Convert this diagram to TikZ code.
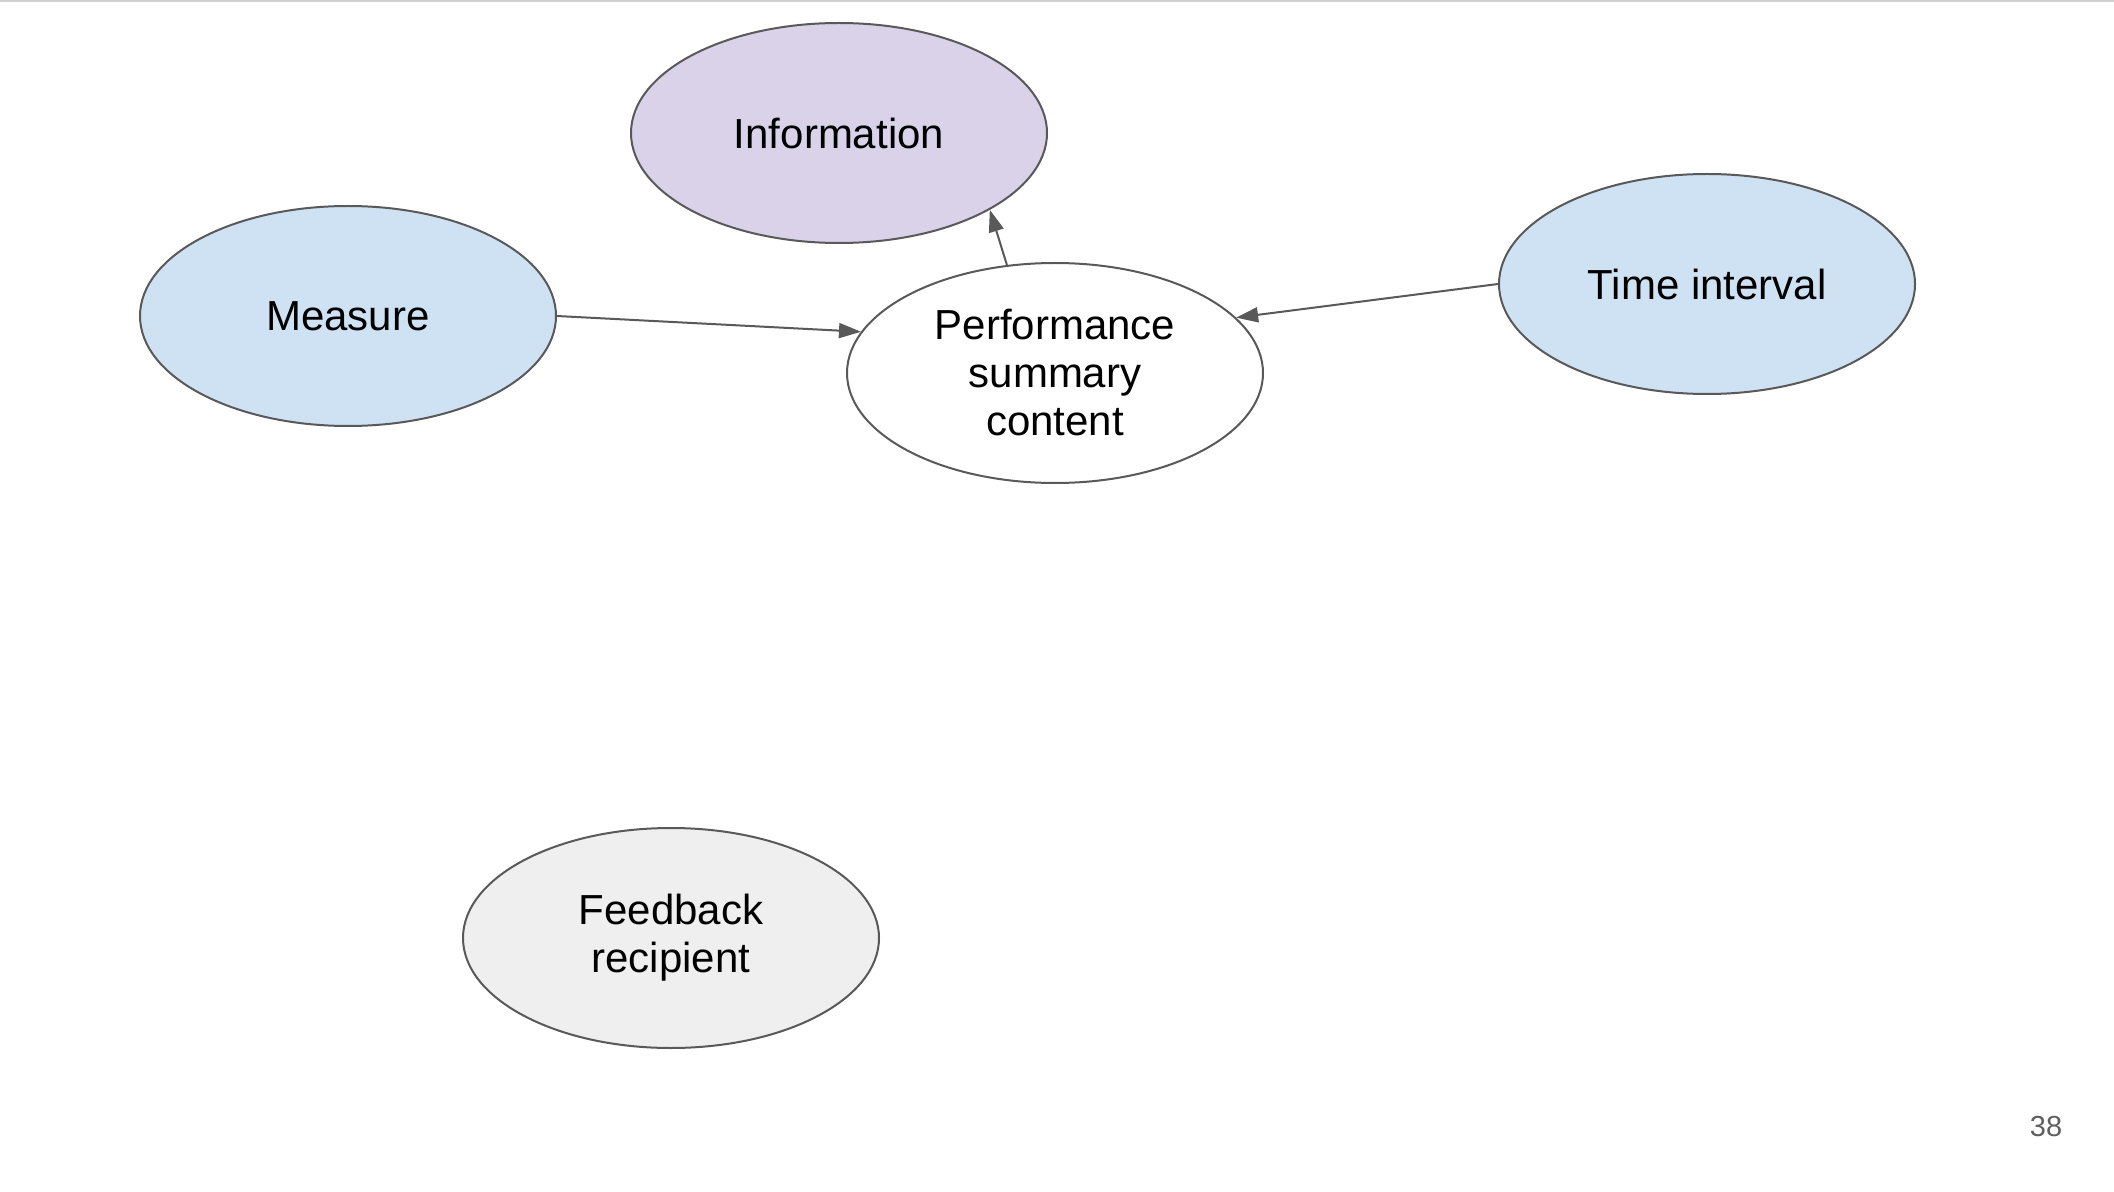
\documentclass[tikz,border=0pt]{standalone}
\usepackage{fontspec}
\setmainfont{Liberation Sans}
\usetikzlibrary{shapes.geometric,arrows.meta}
\definecolor{edgegray}{HTML}{595959}
\definecolor{lavender}{HTML}{D9D2E9}
\definecolor{lightblue}{HTML}{CFE2F3}
\definecolor{lightgrayfill}{HTML}{EFEFEF}
\definecolor{topline}{HTML}{D0D0D0}
\definecolor{pagenum}{HTML}{5F5F5F}
\tikzset{
  bubble/.style={ellipse, draw=edgegray, line width=1pt, minimum width=208pt, minimum height=110pt,
    inner sep=0pt, align=center, font=\fontsize{21}{24}\selectfont},
  link/.style={draw=edgegray, line width=1pt, -{Triangle[length=11pt,width=7.5pt]}}
}
\begin{document}
\begin{tikzpicture}[x=0.5pt,y=-0.5pt]
\useasboundingbox (0,0) rectangle (2114,1192);
\fill[white] (0,0) rectangle (2114,1192);
\fill[topline] (0,0) rectangle (2114,2.5);
\node[bubble, fill=lavender] (info) at (839,133) {Information};
\node[bubble, fill=lightblue] (meas) at (348,316) {Measure};
\node[bubble, fill=white] (perf) at (1055,373) {Performance\\summary\\content};
\node[bubble, fill=lightblue] (time) at (1707,284) {Time interval};
\node[bubble, fill=lightgrayfill] (feed) at (671,938) {Feedback\\recipient};
\node[text=pagenum, font=\fontsize{14.5}{16}\selectfont] (pnum) at (2046,1127) {38};
\draw[link] (meas.east) -- (perf.168);
\draw[link] (time.west) -- (perf.17);
\draw[link] (perf.114) -- (info.-27.5);
\end{tikzpicture}
\end{document}
